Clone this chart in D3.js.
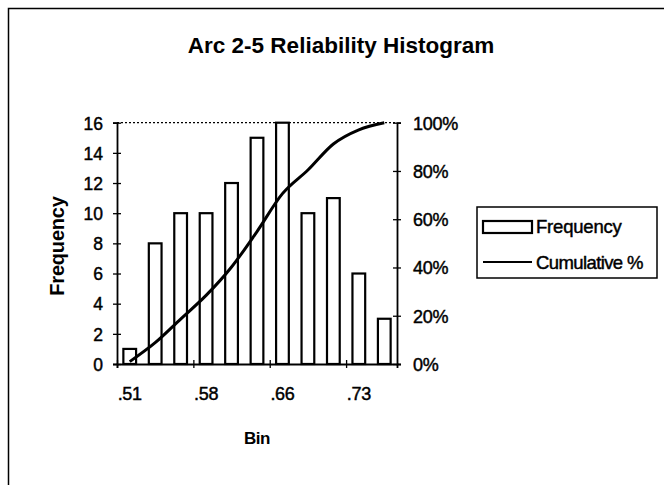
<!DOCTYPE html>
<html><head><meta charset="utf-8">
<script src="https://cdn.jsdelivr.net/npm/d3@7"></script>
<style>
html,body{margin:0;padding:0;background:#fff;}
svg{display:block;font-family:"Liberation Sans",Arial,sans-serif;}
.heavy{stroke:#000;stroke-width:0.45px;}
</style></head>
<body>
<svg id="chart" width="664" height="485"></svg>
<script>
const bins = [".51", ".53", ".56", ".58", ".61", ".63", ".66", ".68", ".70", ".73", ".75"];
const frequency = [1, 8, 10, 10, 12, 15, 16, 10, 11, 6, 3];
const cumulativePct = [0.98, 8.82, 18.63, 28.43, 40.20, 54.90, 70.59, 80.39, 91.18, 97.06, 100];
const freqTicks = [0, 2, 4, 6, 8, 10, 12, 14, 16];
const pctTicks = [0, 20, 40, 60, 80, 100];
const labelEvery = 3;

const svg = d3.select("#chart");
const L = 117, R = 397, T = 122.7, B = 364;

// outer chart border
svg.append("rect").attr("x", 8.5).attr("y", 8.5).attr("width", 700).attr("height", 600)
  .attr("fill", "none").attr("stroke", "#000").attr("stroke-width", 1.5);

svg.append("text").attr("x", 341).attr("y", 53).attr("text-anchor", "middle")
  .attr("font-size", 22.5).attr("font-weight", "bold").attr("letter-spacing", 0)
  .text("Arc 2-5 Reliability Histogram");

const x = d3.scaleBand().domain(bins).range([L, R]).paddingInner(0.5).paddingOuter(0.25);
const xi = d3.scaleLinear().domain([0, bins.length]).range([L, R]);
const y = d3.scaleLinear().domain([0, 16]).range([B, T]);
const y2 = d3.scaleLinear().domain([0, 100]).range([B, T]);

// top dotted border of plot area
svg.append("line").attr("x1", L).attr("x2", R).attr("y1", T).attr("y2", T)
  .attr("stroke", "#000").attr("stroke-width", 1.3).attr("stroke-dasharray", "2,2");

// bars
svg.append("g").selectAll("rect").data(frequency).join("rect")
  .attr("x", (d, i) => x(bins[i])).attr("width", x.bandwidth())
  .attr("y", d => y(d)).attr("height", d => B - y(d))
  .attr("fill", "#fff").attr("stroke", "#000").attr("stroke-width", 2.2);

// cumulative line
const line = d3.line().x((d, i) => x(bins[i]) + x.bandwidth() / 2).y(d => y2(d)).curve(d3.curveMonotoneX);
svg.append("path").datum(cumulativePct).attr("d", line)
  .attr("fill", "none").attr("stroke", "#000").attr("stroke-width", 3).attr("stroke-linejoin", "round");

// left axis
const yAxis = d3.axisLeft(y).tickValues(freqTicks).tickSize(4).tickPadding(10).tickFormat(d3.format("d"));
const gy = svg.append("g").attr("transform", `translate(${L},0)`).call(yAxis);
gy.select(".domain").attr("stroke-width", 1.8);
gy.selectAll(".tick line").attr("x2", -4).attr("x1", 4).attr("stroke-width", 1.3);
gy.selectAll(".tick text").attr("class", "heavy").attr("font-size", 17.5).attr("font-family", "Liberation Sans, Arial").attr("fill", "#000").attr("dy", "0.36em");

// right axis
const y2Axis = d3.axisRight(y2).tickValues(pctTicks).tickSize(4).tickPadding(12).tickFormat(d => d + "%");
const gy2 = svg.append("g").attr("transform", `translate(${R},0)`).call(y2Axis);
gy2.select(".domain").attr("stroke-width", 1.8);
gy2.selectAll(".tick line").attr("x1", -4).attr("x2", 4).attr("stroke-width", 1.3);
gy2.selectAll(".tick text").attr("class", "heavy").attr("font-size", 18).attr("font-family", "Liberation Sans, Arial").attr("fill", "#000").attr("letter-spacing", -0.3).attr("dy", "0.36em");

// bottom axis: tick marks on category boundaries, labels on category centres
const tickIdx = d3.range(0, bins.length, labelEvery);
const xAxis = d3.axisBottom(xi).tickValues(tickIdx).tickSize(4).tickFormat("");
const gx = svg.append("g").attr("transform", `translate(0,${B})`).call(xAxis);
gx.select(".domain").attr("stroke-width", 1.8);
gx.selectAll(".tick line").attr("y1", -4).attr("y2", 4).attr("stroke-width", 1.3);
svg.append("g").selectAll("text").data(tickIdx).join("text")
  .attr("class", "heavy")
  .attr("x", i => x(bins[i]) + x.bandwidth() / 2).attr("y", 400)
  .attr("text-anchor", "middle").attr("font-size", 18).attr("letter-spacing", -0.3)
  .text(i => bins[i]);

// axis titles
svg.append("text").attr("x", 257).attr("y", 444).attr("text-anchor", "middle")
  .attr("font-size", 17).attr("font-weight", "bold").attr("letter-spacing", -0.5).text("Bin");
svg.append("text").attr("transform", "translate(64,246) rotate(-90)").attr("text-anchor", "middle")
  .attr("font-size", 20).attr("font-weight", "bold").attr("letter-spacing", -0.2).text("Frequency");

// legend
const lg = svg.append("g");
lg.append("rect").attr("x", 477).attr("y", 207).attr("width", 180).attr("height", 71)
  .attr("fill", "#fff").attr("stroke", "#000").attr("stroke-width", 1.5);
lg.append("rect").attr("x", 483).attr("y", 221).attr("width", 49).attr("height", 12)
  .attr("fill", "#fff").attr("stroke", "#000").attr("stroke-width", 2.2);
lg.append("line").attr("x1", 483).attr("x2", 532).attr("y1", 262).attr("y2", 262)
  .attr("stroke", "#000").attr("stroke-width", 2);
lg.append("text").attr("class", "heavy").attr("x", 536).attr("y", 233).attr("font-size", 18.5).attr("letter-spacing", -0.2).text("Frequency");
lg.append("text").attr("class", "heavy").attr("x", 536).attr("y", 269).attr("font-size", 18.5).attr("letter-spacing", -0.6).text("Cumulative %");
</script>
</body></html>
